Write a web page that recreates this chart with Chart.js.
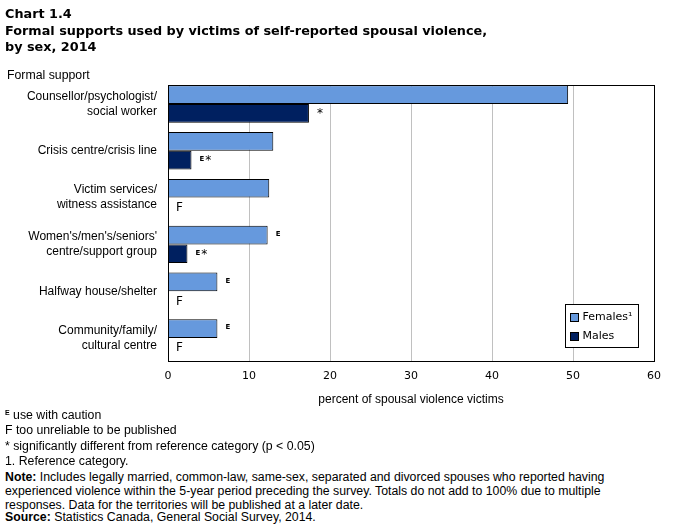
<!DOCTYPE html>
<html>
<head>
<meta charset="utf-8">
<script src="https://cdn.jsdelivr.net/npm/chart.js@4"></script>
<style>
  body { margin: 0; background: #fff; width: 673px; height: 527px; position: relative; overflow: hidden; }
  .t { position: absolute; left: 5px; font-family: "DejaVu Sans", Verdana, sans-serif; font-weight: bold; font-size: 12.8px; color: #000; white-space: nowrap; }
  .n { position: absolute; left: 5px; font-family: "Liberation Sans", Arial, sans-serif; font-size: 12.3px; color: #000; white-space: nowrap; }
  .sup { font-size: 7px; font-weight: bold; vertical-align: 4px; }
  #wrap { position: absolute; left: 0; top: 0; width: 673px; height: 410px; }
</style>
</head>
<body>
<div id="wrap"><canvas id="chart"></canvas></div>

<div class="t" style="top:6px">Chart 1.4</div>
<div class="t" style="top:23px">Formal supports used by victims of self-reported spousal violence,</div>
<div class="t" style="top:39px">by sex, 2014</div>
<div class="n" style="left:7px;top:68px">Formal support</div>

<div class="n" style="top:408px"><span class="sup">E</span> use with caution</div>
<div class="n" style="top:423px">F too unreliable to be published</div>
<div class="n" style="top:439px">* significantly different from reference category (p &lt; 0.05)</div>
<div class="n" style="top:454px">1. Reference category.</div>
<div class="n" style="top:470px;line-height:14px"><b>Note:</b> Includes legally married, common-law, same-sex, separated and divorced spouses who reported having<br>experienced violence within the 5-year period preceding the survey. Totals do not add to 100% due to multiple<br>responses. Data for the territories will be published at a later date.</div>
<div class="n" style="top:510px"><b>Source:</b> Statistics Canada, General Social Survey, 2014.</div>

<script>
// ---- data ----
const categories = [
    ['Counsellor/psychologist/', 'social worker'],
    'Crisis centre/crisis line',
    ['Victim services/', 'witness assistance'],
    ["Women's/men's/seniors'", 'centre/support group'],
    'Halfway house/shelter',
    ['Community/family/', 'cultural centre']
];
const females = [49.4, 13.0, 12.5, 12.3, 6.1, 6.1];
const males = [17.4, 2.9, null, 2.4, null, null];
const femaleNotes = ['', '', '', 'E', 'E', 'E'];
const maleNotes = ['*', 'E*', 'F', 'E*', 'F', 'F'];
const xMin = 0, xMax = 60, xStep = 10;
const seriesNames = ['Females\u00b9', 'Males'];
const colors = ['#6699dd', '#002060'];

const catPct = 0.8;

// draw the little E / * / F flags next to the bars
function drawNote(ctx, text, x, y) {
    for (const ch of text) {
        if (ch === 'E') {
            ctx.font = 'bold 7px "DejaVu Sans", Verdana, sans-serif';
            ctx.fillText('E', x, y - 1);
            x += ctx.measureText('E').width + 1;
        } else {
            ctx.font = '12px "DejaVu Sans", Verdana, sans-serif';
            ctx.fillText(ch, x, y + (ch === '*' ? 1 : 0));
            x += ctx.measureText(ch).width + 1;
        }
    }
}

const framePlugin = {
    id: 'frame',
    beforeDatasetsDraw(chart) {
        // hide grid above the box top
        const a = chart.chartArea;
        const band = (a.bottom - a.top) / categories.length;
        const boxTop = a.top + band * (1 - catPct) / 2;
        const ctx = chart.ctx;
        ctx.save();
        ctx.fillStyle = '#fff';
        ctx.fillRect(a.left - 1, a.top - 2, a.right - a.left + 4, boxTop - a.top + 2);
        ctx.restore();
    },
    afterDatasetsDraw(chart) {
        const a = chart.chartArea;
        const band = (a.bottom - a.top) / categories.length;
        const boxTop = Math.round(a.top + band * (1 - catPct) / 2) + 0.5;
        const ctx = chart.ctx;
        ctx.save();
        ctx.strokeStyle = '#000';
        ctx.lineWidth = 1;
        ctx.strokeRect(Math.round(a.left) + 0.5, boxTop, Math.round(a.right - a.left), Math.round(a.bottom) - boxTop + 0.5);

        // notes
        ctx.fillStyle = '#000';
        ctx.textBaseline = 'middle';
        ctx.textAlign = 'left';
        const xs = chart.scales.x;
        const fMeta = chart.getDatasetMeta(0);
        for (let i = 0; i < categories.length; i++) {
            const fb = fMeta.data[i];
            if (femaleNotes[i]) drawNote(ctx, femaleNotes[i], xs.getPixelForValue(females[i]) + 8, fb.y);
            if (maleNotes[i]) {
                const my = fb.y + fb.height;
                if (males[i] == null) drawNote(ctx, maleNotes[i], xs.getPixelForValue(0) + 8, my + 1);
                else drawNote(ctx, maleNotes[i], xs.getPixelForValue(males[i]) + 8, my);
            }
        }

        // legend box
        const lx = 565.5, ly = 304.5, lw = 73, lh = 43;
        ctx.fillStyle = '#fff';
        ctx.fillRect(lx, ly, lw, lh);
        ctx.strokeStyle = '#000';
        ctx.strokeRect(lx, ly, lw, lh);
        ctx.font = '11px "DejaVu Sans", Verdana, sans-serif';
        for (let k = 0; k < 2; k++) {
            const yy = ly + 13 + k * 19;
            ctx.fillStyle = colors[k];
            ctx.fillRect(lx + 5, yy - 4, 8, 8);
            ctx.strokeStyle = '#000';
            ctx.strokeRect(lx + 5, yy - 4, 8, 8);
            ctx.fillStyle = '#000';
            ctx.fillText(seriesNames[k], lx + 17, yy);
        }
        ctx.restore();
    }
};

new Chart(document.getElementById('chart'), {
    type: 'bar',
    data: {
        labels: categories,
        datasets: [
            { label: seriesNames[0], data: females, backgroundColor: colors[0], borderColor: '#000', borderWidth: 1 },
            { label: seriesNames[1], data: males, backgroundColor: colors[1], borderColor: '#000', borderWidth: 1 }
        ]
    },
    options: {
        indexAxis: 'y',
        responsive: true,
        maintainAspectRatio: false,
        animation: false,
        datasets: { bar: { categoryPercentage: catPct, barPercentage: 1 } },
        layout: { padding: { top: 80.6, right: 19, left: 0, bottom: 0 } },
        plugins: { legend: { display: false }, tooltip: { enabled: false } },
        scales: {
            x: {
                min: xMin, max: xMax,
                afterFit(s) { s.height = 48.6; },
                grid: { color: '#c0c0c0', drawTicks: false, lineWidth: 1 },
                border: { display: false },
                ticks: { stepSize: xStep, padding: 8, color: '#000', font: { family: '"DejaVu Sans", Verdana, sans-serif', size: 11 } },
                title: { display: true, text: 'percent of spousal violence victims', color: '#000', padding: { top: 4, bottom: 3 },
                         font: { family: '"Liberation Sans", Arial, sans-serif', size: 12 } }
            },
            y: {
                afterFit(s) { s.width = 168; },
                grid: { display: false, drawTicks: false },
                border: { display: false },
                ticks: { padding: 11, color: '#000', font: { family: '"Liberation Sans", Arial, sans-serif', size: 12, lineHeight: 1.25 } }
            }
        }
    },
    plugins: [framePlugin]
});
</script>
</body>
</html>
